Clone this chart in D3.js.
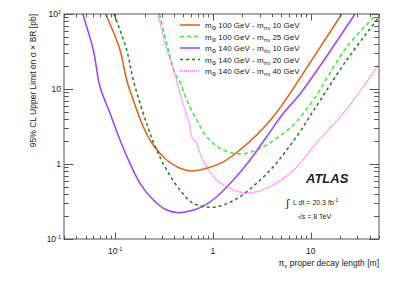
<!DOCTYPE html>
<html lang="en">
<head>
<meta charset="UTF-8">
<title>ATLAS limits vs proper decay length</title>
<script src="https://d3js.org/d3.v7.min.js"></script>
<style>
    body { margin: 0; background: #fff; }
    text { font-family: "Liberation Sans", Arial, sans-serif; fill: #222; }
</style>
</head>
<body>
<div id="chart"></div>
<script>
    // proper decay length [m] vs 95% CL limit [pb]
    const mH100_mv10 = [[0.0801,100],[0.1122,33.1],[0.1313,13.2],[0.1534,7.13],[0.194,3.14],[0.2457,1.79],[0.337,1.13],[0.461,0.877],[0.607,0.807],[0.865,0.877],[1.278,1.07],[1.893,1.54],[2.805,2.44],[4.15,4.27],[5.69,7.52],[7.2,12.0],[20.8,100]];
    const mH100_mv25 = [[0.284,100],[0.337,40.7],[0.41,16.2],[0.461,12.4],[0.54,7.13],[0.683,3.86],[0.865,2.31],[1.182,1.62],[1.617,1.39],[2.22,1.39],[3.03,1.62],[4.49,2.20],[6.64,3.31],[10.64,7.13],[23.4,36.3],[47.7,100]];
    const mH140_mv10 = [[0.0466,100],[0.0598,33.1],[0.0700,10.7],[0.0887,4.74],[0.1122,2.09],[0.1419,1.02],[0.1797,0.553],[0.2457,0.331],[0.337,0.2436],[0.443,0.2243],[0.583,0.236],[0.798,0.275],[1.094,0.366],[1.617,0.612],[2.40,1.13],[3.55,2.31],[5.25,4.74],[7.78,8.58],[28.4,100]];
    const mH140_mv20 = [[0.0974,100],[0.1313,33.1],[0.1534,13.2],[0.194,4.74],[0.2274,2.57],[0.266,1.54],[0.337,0.832],[0.461,0.45],[0.630,0.299],[0.934,0.265],[1.278,0.284],[1.893,0.366],[2.805,0.553],[4.15,0.92],[5.69,1.54],[7.78,2.70],[10.64,5.09],[23.4,24.4],[50,91.2]];
    const mH140_mv40 = [[0.276,100],[0.324,41],[0.426,13.2],[0.461,8.77],[0.519,5.25],[0.574,3.49],[0.607,2.31],[0.683,1.89],[0.738,1.39],[0.865,0.92],[1.094,0.612],[1.497,0.474],[2.05,0.414],[2.805,0.427],[4.15,0.525],[6.15,0.752],[7.78,1.02],[10.64,1.70],[23.4,5.4],[50,21.5]];

    const seriesNames = ["100 GeV", "100 GeV", "140 GeV", "140 GeV", "140 GeV"];
    const seriesMv = ["10 GeV", "25 GeV", "10 GeV", "20 GeV", "40 GeV"];
    const seriesData = [mH100_mv10, mH100_mv25, mH140_mv10, mH140_mv20, mH140_mv40];
    const seriesColor = ["#e0600f", "#33ee33", "#a040ff", "#1e7a1e", "#ff60f0"];
    const seriesDash = [null, "4,3", null, "3,3", "1,1"];

    const xTicks = [0.1, 1, 10];
    const yTicks = [0.1, 1, 10, 100];

    const W = 399, H = 286;
    const pL = 64, pR = 379, pT = 14, pB = 239;

    const svg = d3.select("#chart").append("svg")
        .attr("width", W)
        .attr("height", H);

    const x = d3.scaleLog().domain([0.03, 50]).range([pL, pR]);
    const y = d3.scaleLog().domain([0.1, 100]).range([pB, pT]);

    svg.append("clipPath").attr("id", "clip")
        .append("rect")
        .attr("x", pL).attr("y", pT)
        .attr("width", pR - pL).attr("height", pB - pT);

    // curves
    const line = d3.line()
        .x(d => x(d[0]))
        .y(d => y(d[1]))
        .curve(d3.curveCatmullRom.alpha(0.5));

    svg.append("g").attr("clip-path", "url(#clip)")
        .selectAll("path")
        .data(seriesData)
        .enter().append("path")
        .attr("d", line)
        .attr("fill", "none")
        .attr("stroke", (d, i) => seriesColor[i])
        .attr("stroke-width", 1.5)
        .attr("stroke-dasharray", (d, i) => seriesDash[i]);

    // frame
    svg.append("rect")
        .attr("x", pL).attr("y", pT)
        .attr("width", pR - pL).attr("height", pB - pT)
        .attr("fill", "none")
        .attr("stroke", "#555")
        .attr("stroke-width", 1);

    // ROOT style inward ticks on all four sides
    function minorTicks(domain) {
        const out = [];
        for (let e = -3; e <= 3; e++) {
            for (let m = 1; m <= 9; m++) {
                const v = m * Math.pow(10, e);
                if (v >= domain[0] * 0.999 && v <= domain[1] * 1.001) out.push({ v: v, major: m === 1 });
            }
        }
        return out;
    }

    const tk = svg.append("g").attr("stroke", "#555").attr("stroke-width", 1);
    minorTicks(x.domain()).forEach(t => {
        const len = t.major ? 6.5 : 3.3;
        const px = Math.round(x(t.v)) + 0.5;
        tk.append("line").attr("x1", px).attr("x2", px).attr("y1", pB).attr("y2", pB - len);
        tk.append("line").attr("x1", px).attr("x2", px).attr("y1", pT).attr("y2", pT + len);
    });
    minorTicks(y.domain()).forEach(t => {
        const len = t.major ? 9.5 : 4.8;
        const py = Math.round(y(t.v)) + 0.5;
        tk.append("line").attr("x1", pL).attr("x2", pL + len).attr("y1", py).attr("y2", py);
        tk.append("line").attr("x1", pR).attr("x2", pR - len).attr("y1", py).attr("y2", py);
    });

    // tick labels
    function powLabel(sel, v) {
        const e = Math.round(Math.log10(v));
        if (e === 0) sel.text("1");
        else if (e === 1) sel.text("10");
        else {
            sel.append("tspan").text("10");
            sel.append("tspan").attr("dy", -3.5).attr("font-size", 5.5).text(e);
        }
    }

    xTicks.forEach(v => {
        const t = svg.append("text")
            .attr("x", x(v)).attr("y", 254)
            .attr("text-anchor", "middle")
            .attr("font-size", 8.5);
        powLabel(t, v);
    });
    yTicks.forEach(v => {
        const t = svg.append("text")
            .attr("x", pL - 3).attr("y", y(v) + 3)
            .attr("text-anchor", "end")
            .attr("font-size", 8.5);
        powLabel(t, v);
    });

    // axis titles
    const xt = svg.append("text")
        .attr("x", pR).attr("y", 266)
        .attr("text-anchor", "end")
        .attr("font-size", 8.5);
    xt.append("tspan").text("π");
    xt.append("tspan").attr("dy", 2).attr("font-size", 6).text("v");
    xt.append("tspan").attr("dy", -2).text(" proper decay length [m]");

    svg.append("text")
        .attr("transform", `translate(36,${pT}) rotate(-90)`)
        .attr("text-anchor", "end")
        .attr("font-size", 8.5)
        .text("95% CL Upper Limit on σ × BR [pb]");

    // legend
    const leg = svg.append("g");
    seriesData.forEach((d, i) => {
        const ly = 25 + i * 11.5;
        leg.append("line")
            .attr("x1", 180).attr("x2", 200)
            .attr("y1", ly).attr("y2", ly)
            .attr("stroke", seriesColor[i])
            .attr("stroke-width", 1.5)
            .attr("stroke-dasharray", seriesDash[i]);
        const t = leg.append("text")
            .attr("x", 205).attr("y", ly + 3)
            .attr("font-size", 8);
        t.append("tspan").text("m");
        t.append("tspan").attr("dy", 2).attr("font-size", 5.5).text("Φ");
        t.append("tspan").attr("dy", -2).text(" " + seriesNames[i] + " - m");
        t.append("tspan").attr("dy", 2).attr("font-size", 5.5).text("πv");
        t.append("tspan").attr("dy", -2).text(" " + seriesMv[i]);
    });

    // ATLAS label
    svg.append("text")
        .attr("x", 306).attr("y", 183)
        .attr("font-size", 13)
        .attr("font-weight", "bold")
        .attr("font-style", "italic")
        .attr("fill", "#000")
        .text("ATLAS");

    svg.append("text")
        .attr("x", 286).attr("y", 207)
        .attr("font-size", 11)
        .text("∫");
    const lum = svg.append("text")
        .attr("x", 293).attr("y", 205)
        .attr("font-size", 7);
    lum.append("tspan").text("L dt = 20.3 fb");
    lum.append("tspan").attr("dy", -3).attr("font-size", 5).text("-1");

    svg.append("text")
        .attr("x", 298).attr("y", 219)
        .attr("font-size", 7)
        .text("√s = 8 TeV");
</script>
</body>
</html>
